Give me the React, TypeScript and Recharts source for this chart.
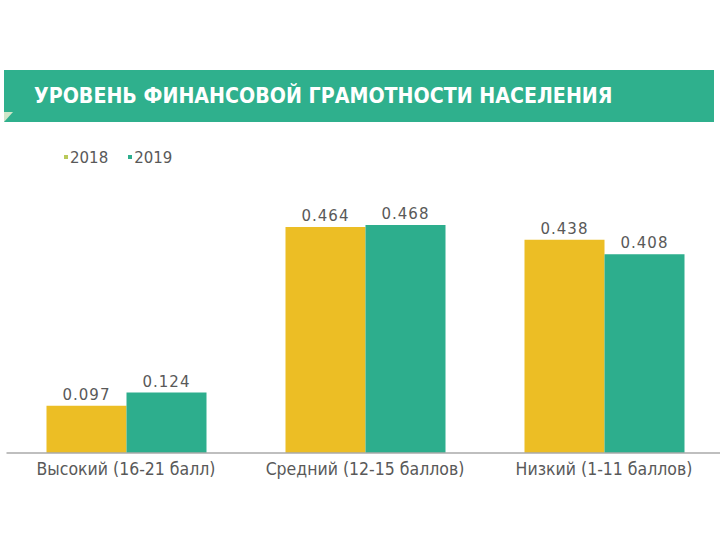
import { BarChart, Bar, XAxis, YAxis, LabelList } from "recharts";

const categories = ["Высокий (16-21 балл)", "Средний (12-15 баллов)", "Низкий (1-11 баллов)"];
const values2018 = [0.097, 0.464, 0.438];
const values2019 = [0.124, 0.468, 0.408];
const seriesNames = ["2018", "2019"];

const data = categories.map((name, i) => ({
  name,
  y2018: values2018[i],
  y2019: values2019[i],
}));

const YELLOW = "#ECBE25";
const GREEN = "#2DAE8D";

export default function App() {
  return (
    <div
      style={{
        position: "absolute",
        left: 0,
        top: 0,
        width: 720,
        height: 540,
        overflow: "hidden",
        background: "#fff",
        fontFamily: "'DejaVu Sans', sans-serif",
      }}
    >
      {/* title band */}
      <div
        style={{
          position: "absolute",
          left: 4,
          top: 70,
          width: 710,
          height: 52,
          background: "#2FB08D",
        }}
      >
        <div
          style={{
            position: "absolute",
            left: 30,
            top: 13,
            color: "#fff",
            fontWeight: "bold",
            fontSize: 21.2,
            fontFamily: "'DejaVu Sans Condensed', 'DejaVu Sans', sans-serif",
            whiteSpace: "nowrap",
          }}
        >
          УРОВЕНЬ ФИНАНСОВОЙ ГРАМОТНОСТИ НАСЕЛЕНИЯ
        </div>
        <div
          style={{
            position: "absolute",
            left: 0,
            bottom: 0,
            width: 0,
            height: 0,
            borderTop: "10px solid #cfe6c9",
            borderRight: "9px solid transparent",
          }}
        />
      </div>

      {/* legend */}
      <div
        style={{
          position: "absolute",
          left: 64,
          top: 149,
          display: "flex",
          gap: 20,
          fontSize: 15,
          color: "#595959",
        }}
      >
        {seriesNames.map((s, i) => (
          <span key={s} style={{ display: "flex", alignItems: "center" }}>
            <span
              style={{
                width: 4,
                height: 4,
                background: i === 0 ? "#B9C95A" : GREEN,
                marginRight: 2,
                marginTop: -2,
              }}
            />
            {s}
          </span>
        ))}
      </div>

      <div style={{ position: "absolute", left: 0, top: 0 }}>
        <BarChart
          width={730}
          height={540}
          data={data}
          margin={{ top: 209.5, right: 6.5, bottom: 0, left: 6.5 }}
          barCategoryGap={40}
          barGap={0}
        >
          <XAxis
            dataKey="name"
            height={87}
            axisLine={{ stroke: "#AAAAAA", strokeWidth: 1.5 }}
            tickLine={false}
            interval={0}
            tick={{
              fill: "#595959",
              fontSize: 17.5,
              fontFamily: "'DejaVu Sans Condensed', 'DejaVu Sans', sans-serif",
            }}
            tickMargin={4}
          />
          <YAxis hide domain={[0, 0.5]} />
          <Bar dataKey="y2018" fill={YELLOW} isAnimationActive={false}>
            <LabelList
              dataKey="y2018"
              position="top"
              offset={6}
              style={{ fill: "#595959", fontSize: 15, letterSpacing: 1 }}
            />
          </Bar>
          <Bar dataKey="y2019" fill={GREEN} isAnimationActive={false}>
            <LabelList
              dataKey="y2019"
              position="top"
              offset={6}
              style={{ fill: "#595959", fontSize: 15, letterSpacing: 1 }}
            />
          </Bar>
        </BarChart>
      </div>
    </div>
  );
}
